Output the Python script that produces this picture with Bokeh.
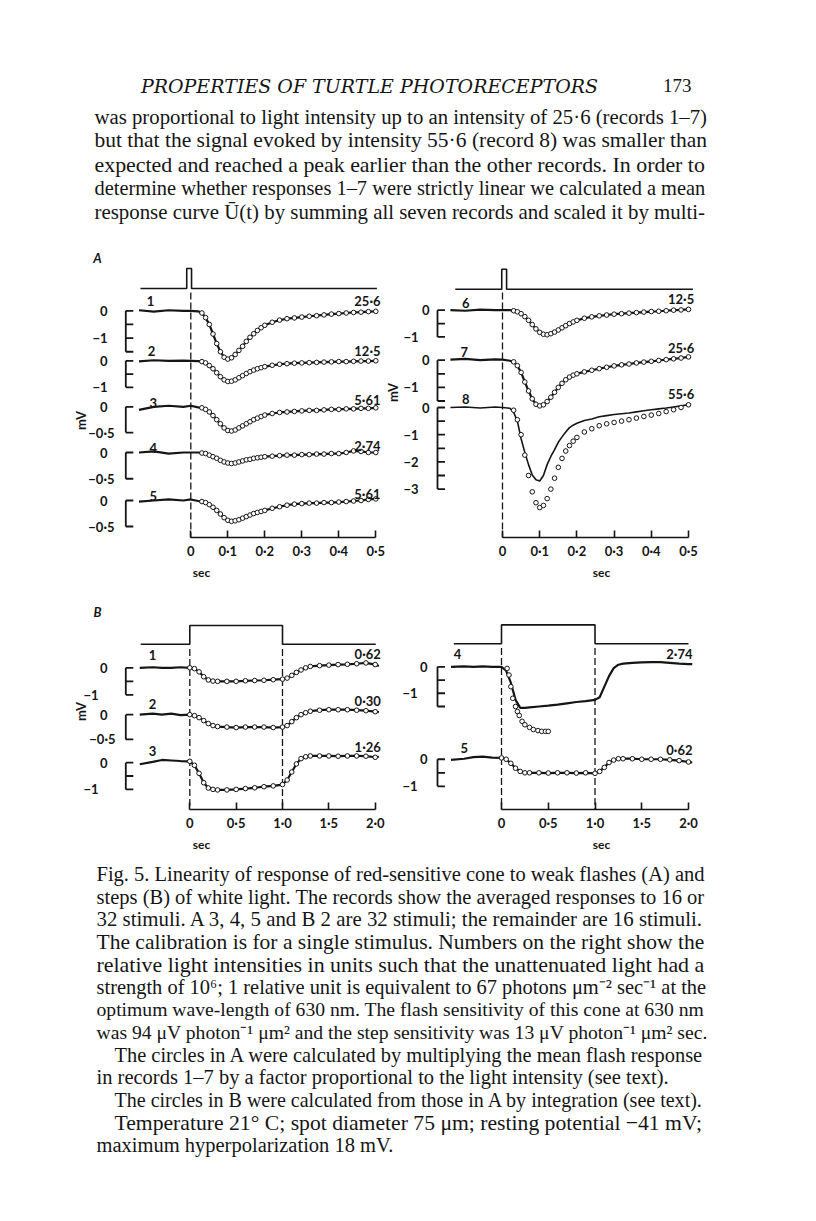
import numpy as np
from bokeh.plotting import figure
from bokeh.models import Range1d, LinearAxis, FixedTicker, CustomJSTickFormatter, ColumnDataSource
from bokeh.layouts import column, row
from bokeh.embed import file_html
from bokeh.resources import INLINE
from bokeh.core.properties import value

SANS = "Lato"
SERIF = "Liberation Serif"
INK = "#151515"

# ---------------------------------------------------------------- data (A: flashes)
TA = [-0.14, -0.10, -0.06, -0.02, 0.00, 0.02, 0.03, 0.04, 0.05, 0.06, 0.07, 0.08, 0.09,
      0.10, 0.11, 0.12, 0.13, 0.14, 0.15, 0.16, 0.17, 0.18, 0.19, 0.20, 0.22, 0.24, 0.26,
      0.28, 0.30, 0.32, 0.34, 0.36, 0.38, 0.40, 0.42, 0.44, 0.46, 0.48, 0.50]
A1 = [0.02, -0.03, 0.02, 0.00, 0.00, -0.02, -0.08, -0.25, -0.50, -0.85, -1.20, -1.50, -1.70,
      -1.77, -1.72, -1.60, -1.45, -1.30, -1.12, -0.97, -0.84, -0.72, -0.62, -0.53, -0.42, -0.34,
      -0.29, -0.26, -0.23, -0.20, -0.18, -0.15, -0.12, -0.10, -0.08, -0.06, -0.05, -0.03, -0.02]
A2 = [-0.02, 0.02, 0.00, 0.01, 0.00, -0.01, -0.03, -0.08, -0.18, -0.30, -0.45, -0.60, -0.72,
      -0.78, -0.77, -0.72, -0.64, -0.56, -0.48, -0.41, -0.35, -0.30, -0.26, -0.22, -0.17, -0.13,
      -0.11, -0.09, -0.08, -0.07, -0.06, -0.05, -0.04, -0.03, -0.03, -0.02, -0.01, -0.01, 0.00]
A3 = [-0.06, 0.00, 0.02, 0.00, 0.02, -0.01, -0.02, -0.05, -0.10, -0.17, -0.25, -0.33, -0.41,
      -0.46, -0.47, -0.45, -0.41, -0.37, -0.33, -0.29, -0.25, -0.22, -0.19, -0.16, -0.13, -0.11,
      -0.10, -0.09, -0.08, -0.07, -0.07, -0.06, -0.05, -0.05, -0.04, -0.04, -0.03, -0.03, -0.02]
A4 = [0.00, 0.02, -0.02, 0.00, 0.00, 0.00, -0.01, -0.02, -0.05, -0.08, -0.11, -0.15, -0.18,
      -0.20, -0.21, -0.20, -0.18, -0.16, -0.14, -0.13, -0.11, -0.10, -0.09, -0.08, -0.07, -0.06,
      -0.05, -0.05, -0.04, -0.04, -0.03, -0.03, -0.02, -0.02, 0.00, 0.03, 0.02, 0.00, 0.00]
A5 = [-0.02, 0.00, 0.02, 0.00, 0.02, -0.01, -0.02, -0.04, -0.08, -0.13, -0.19, -0.26, -0.33,
      -0.38, -0.40, -0.39, -0.37, -0.34, -0.31, -0.28, -0.25, -0.23, -0.21, -0.19, -0.15, -0.12,
      -0.09, -0.07, -0.06, -0.05, -0.05, -0.04, -0.04, -0.03, -0.02, -0.01, 0.00, 0.02, 0.03]
A6 = [0.00, -0.02, 0.02, 0.00, 0.00, 0.00, -0.02, -0.06, -0.13, -0.24, -0.38, -0.54, -0.70,
      -0.83, -0.90, -0.92, -0.88, -0.82, -0.74, -0.66, -0.58, -0.50, -0.44, -0.38, -0.30, -0.25,
      -0.21, -0.18, -0.15, -0.13, -0.11, -0.09, -0.07, -0.05, -0.04, -0.02, 0.00, 0.01, 0.03]
A7 = [0.02, 0.05, 0.00, 0.03, 0.02, -0.02, -0.06, -0.20, -0.45, -0.80, -1.13, -1.42, -1.62,
      -1.68, -1.64, -1.52, -1.36, -1.18, -1.00, -0.85, -0.72, -0.62, -0.55, -0.50, -0.43, -0.37,
      -0.31, -0.26, -0.21, -0.17, -0.14, -0.10, -0.07, -0.04, -0.01, 0.02, 0.05, 0.08, 0.12]
A8 = [0.00, 0.02, -0.02, 0.02, 0.00, -0.03, -0.18, -0.50, -1.15, -1.65, -2.10, -2.48, -2.66,
      -2.70, -2.50, -2.10, -1.80, -1.55, -1.28, -1.08, -0.90, -0.74, -0.65, -0.58, -0.48, -0.42,
      -0.34, -0.30, -0.26, -0.23, -0.20, -0.16, -0.12, -0.08, -0.05, -0.02, 0.02, 0.06, 0.10]
A8_CIRCLES = [0.00, 0.00, 0.00, 0.00, 0.00, -0.02, -0.10, -0.45, -1.00, -1.75, -2.50, -3.10, -3.50,
              -3.68, -3.60, -3.35, -3.00, -2.60, -2.20, -1.87, -1.60, -1.40, -1.24, -1.10, -0.90, -0.78,
              -0.67, -0.60, -0.55, -0.50, -0.45, -0.39, -0.33, -0.28, -0.22, -0.15, -0.08, 0.00, 0.10]
INT_A = ["25·6", "12·5", "5·61", "2·74", "5·61", "12·5", "25·6", "55·6"]
STIM_AL_T = [-0.136, -0.011, -0.011, 0.002, 0.002, 0.503]
STIM_AR_T = [-0.127, -0.002, -0.002, 0.011, 0.011, 0.512]
STIM_A_L = [0, 0, 1, 1, 0, 0]
A_TICKS = [0.0, 0.1, 0.2, 0.3, 0.4, 0.5]

# ---------------------------------------------------------------- data (B: steps)
TB = [-0.54, -0.40, -0.30, -0.20, -0.10, 0.00, 0.05, 0.10, 0.15, 0.20, 0.25, 0.30, 0.40,
      0.50, 0.60, 0.70, 0.80, 0.90, 1.00, 1.05, 1.10, 1.15, 1.20, 1.25, 1.30, 1.40, 1.50,
      1.60, 1.70, 1.80, 1.90, 2.00, 2.04]
B1 = [0.00, 0.02, 0.00, 0.00, 0.02, 0.00, -0.03, -0.15, -0.33, -0.45, -0.49, -0.50, -0.50,
      -0.50, -0.48, -0.47, -0.46, -0.44, -0.42, -0.38, -0.28, -0.17, -0.08, 0.00, 0.05, 0.08,
      0.10, 0.12, 0.13, 0.15, 0.18, 0.12, 0.07]
B2 = [0.00, 0.02, 0.00, 0.02, -0.01, 0.00, -0.02, -0.06, -0.12, -0.18, -0.22, -0.24, -0.25,
      -0.26, -0.25, -0.25, -0.25, -0.26, -0.25, -0.22, -0.14, -0.06, 0.00, 0.04, 0.07, 0.09,
      0.10, 0.10, 0.10, 0.09, 0.08, 0.06, 0.05]
B3 = [-0.06, 0.03, 0.10, 0.08, 0.06, 0.05, -0.10, -0.40, -0.75, -0.95, -1.00, -1.02, -1.02,
      -1.00, -0.97, -0.94, -0.90, -0.87, -0.82, -0.65, -0.35, -0.05, 0.15, 0.22, 0.25, 0.25,
      0.25, 0.24, 0.25, 0.25, 0.24, 0.20, 0.22]
B4 = [0.00, 0.02, 0.00, 0.02, 0.00, 0.00, -0.15, -0.60, -1.25, -1.55, -1.55, -1.53, -1.50,
      -1.47, -1.43, -1.38, -1.33, -1.30, -1.25, -1.15, -0.75, -0.35, -0.05, 0.08, 0.12, 0.15,
      0.17, 0.18, 0.18, 0.15, 0.12, 0.10, 0.10]
B4_CIRC_T = [0.06, 0.08, 0.10, 0.12, 0.15, 0.17, 0.19, 0.22, 0.25, 0.30, 0.34, 0.39, 0.43, 0.47, 0.50]
B4_CIRC_V = [-0.06, -0.31, -0.75, -1.19, -1.50, -1.69, -1.84, -2.06, -2.19, -2.29, -2.37, -2.41,
             -2.44, -2.44, -2.44]
B5 = [-0.02, 0.02, 0.08, 0.10, 0.06, 0.05, 0.00, -0.15, -0.33, -0.45, -0.50, -0.50, -0.50,
      -0.51, -0.50, -0.50, -0.51, -0.50, -0.52, -0.45, -0.30, -0.12, -0.03, 0.02, 0.02, 0.02,
      0.00, 0.00, 0.00, -0.02, -0.05, -0.10, -0.12]
INT_B = ["0·62", "0·30", "1·26", "2·74", "0·62"]
STIM_BL_T = [-0.53, 0.0, 0.0, 1.0, 1.0, 2.006]
STIM_BR_T = [-0.51, 0.0, 0.0, 1.0, 1.0, 2.0]
STIM_B_L = [0, 0, 1, 1, 0, 0]
B_TICKS = [0.0, 0.5, 1.0, 1.5, 2.0]

# ---------------------------------------------------------------- page text
RUNNING_HEAD = "PROPERTIES OF TURTLE PHOTORECEPTORS"
PAGE_NO = "173"
BODY = [
    "was proportional to light intensity up to an intensity of 25·6 (records 1–7)",
    "but that the signal evoked by intensity 55·6 (record 8) was smaller than",
    "expected and reached a peak earlier than the other records. In order to",
    "determine whether responses 1–7 were strictly linear we calculated a mean",
    "response curve Ū(t) by summing all seven records and scaled it by multi-",
]
CAPTION = [
    "Fig. 5. Linearity of response of red-sensitive cone to weak flashes (A) and",
    "steps (B) of white light. The records show the averaged responses to 16 or",
    "32 stimuli. A 3, 4, 5 and B 2 are 32 stimuli; the remainder are 16 stimuli.",
    "The calibration is for a single stimulus. Numbers on the right show the",
    "relative light intensities in units such that the unattenuated light had a",
    "strength of 10⁶; 1 relative unit is equivalent to 67 photons μm⁻² sec⁻¹ at the",
    "optimum wave-length of 630 nm. The flash sensitivity of this cone at 630 nm",
    "was 94 μV photon⁻¹ μm² and the step sensitivity was 13 μV photon⁻¹ μm² sec.",
    "The circles in A were calculated by multiplying the mean flash response",
    "in records 1–7 by a factor proportional to the light intensity (see text).",
    "The circles in B were calculated from those in A by integration (see text).",
    "Temperature 21° C; spot diameter 75 μm; resting potential −41 mV;",
    "maximum hyperpolarization 18 mV.",
]
CAPTION_INDENT = [0, 0, 0, 0, 0, 0, 0, 0, 1, 0, 1, 1, 0]
CAPTION_JUSTIFY = [1, 1, 1, 1, 1, 1, 1, 1, 1, 0, 1, 1, 0]

# Times-compatible advance widths (Liberation Serif), per 1000 em
TW = {" ": 250, "(": 333, ")": 333, ",": 250, "-": 333, ".": 250, ":": 278, ";": 278,
      "·": 250, "–": 500, "−": 564, "μ": 500, "°": 400, "¹": 300, "²": 300, "⁶": 300,
      "⁻": 333, "Ū": 722}
TW.update(dict(zip("abcdefghijklmnopqrstuvwxyz",
                   [444, 500, 444, 500, 444, 333, 500, 500, 278, 278, 500, 278, 778, 500, 500,
                    500, 500, 333, 389, 278, 500, 500, 722, 500, 500, 444])))
TW.update(dict(zip("ABCDEFGHIJKLMNOPQRSTUVWXYZ",
                   [722, 667, 667, 722, 611, 556, 722, 722, 333, 389, 722, 611, 889, 722, 722,
                    556, 722, 667, 556, 611, 722, 722, 944, 722, 722, 611])))


def em_width(s):
    return sum(TW.get(c, 500) for c in s) / 1000.0


JS_FMT = "return (tick === 0) ? '0' : tick.toFixed(1).replace('.', '\u00b7');"


def base_fig(width, height, xr, yr, bottom=0):
    p = figure(width=width, height=height, x_range=xr, y_range=yr, output_backend="svg",
               toolbar_location=None, title=None, x_axis_location=None, y_axis_location=None,
               min_border_left=0, min_border_right=0, min_border_top=0, min_border_bottom=bottom,
               outline_line_color=None, background_fill_color="white", border_fill_color="white")
    p.grid.grid_line_color = None
    return p


def sans_text(p, xs, ys, texts, align="center", size="13px", style="bold", angle=0.0, **kw):
    p.text(x=xs, y=ys, text=texts, text_align=align, text_baseline="middle",
           text_font=value(SANS), text_font_style=style, text_font_size=size,
           text_color=INK, angle=angle, **kw)


def make_panel(cfg):
    L, T, W, H, FH = cfg["left"], cfg["top"], cfg["width"], cfg["height"], cfg["frame_h"]
    t0, pps = cfg["t0"], cfg["pps"]

    def tx(px):
        return (px - t0) / pps

    def fy(py):
        return py - T

    p = base_fig(W, H, Range1d(tx(L), tx(L + W)), Range1d(FH, 0), bottom=H - FH)

    ranges = {}
    s0 = fy(cfg["stim_y0"])
    sc = cfg["stim_y0"] - cfg["stim_y1"]
    ranges["stim"] = Range1d(-(FH - s0) / sc, s0 / sc)
    for tr in cfg["traces"]:
        b = fy(tr["base"])
        g = tr["gain"]
        ranges[tr["id"]] = Range1d(-(FH - b) / g, b / g)
    p.extra_y_ranges = ranges

    # stimulus monitor
    p.line(cfg["stim_t"], cfg["stim_l"], y_range_name="stim", line_color=INK, line_width=1.6)

    # dashed time markers
    m = cfg["marks"]
    y0, y1 = cfg["mark_y"]
    p.segment(x0=m, y0=[fy(y0)] * len(m), x1=m, y1=[fy(y1)] * len(m),
              line_color=INK, line_width=1.3, line_dash="7 3")

    # time axis
    ax = LinearAxis(ticker=FixedTicker(ticks=cfg["ticks"]),
                    formatter=CustomJSTickFormatter(code=JS_FMT),
                    bounds=(cfg["ticks"][0], cfg["ticks"][-1]), axis_label="sec",
                    major_tick_in=7, major_tick_out=0, minor_tick_line_color=None,
                    axis_line_width=1.6, major_tick_line_width=1.6,
                    axis_line_color=INK, major_tick_line_color=INK,
                    major_label_text_font=SANS, major_label_text_font_style="bold",
                    major_label_text_font_size="13px", major_label_text_color=INK,
                    major_label_standoff=5, axis_label_standoff=3,
                    axis_label_text_font=SANS, axis_label_text_font_style="bold",
                    axis_label_text_font_size="12px", axis_label_text_color=INK)
    p.add_layout(ax, "below")

    for tr in cfg["traces"]:
        rn = tr["id"]
        # recorded response
        p.line(tr["t"], tr["v"], y_range_name=rn, line_color=INK, line_width=tr.get("lw", 2.2))
        # calculated circles
        ct, cv = tr["circ"]
        p.scatter(ct, cv, marker="circle", size=4.6, fill_color="white", line_color=INK,
                  line_width=1.0, y_range_name=rn)
        # calibration bracket
        bt = tx(tr["br_x"])
        dt = 7.5 / pps
        ticks = [-0.5 * k for k in range(int(round(-tr["br_min"] / 0.5)) + 1)]
        p.segment(x0=[bt], y0=[0.0], x1=[bt], y1=[tr["br_min"]], y_range_name=rn,
                  line_color=INK, line_width=1.8)
        p.segment(x0=[bt] * len(ticks), y0=ticks, x1=[bt + dt] * len(ticks), y1=ticks,
                  y_range_name=rn, line_color=INK, line_width=1.8)
        lv = [l[0] for l in tr["labels"]]
        ls = [l[1] for l in tr["labels"]]
        lx = [tx(l[2]) for l in tr["labels"]]
        sans_text(p, lx, lv, ls, align="right", y_range_name=rn)
        # record number and intensity
        n, nx, ny = tr["num"]
        sans_text(p, [tx(nx)], [fy(ny)], [n])
        s, sx, sy = tr["inten"]
        sans_text(p, [tx(sx)], [fy(sy)], [s], align="right")

    if cfg.get("letter"):
        s, x, y = cfg["letter"]
        sans_text(p, [tx(x)], [fy(y)], [s], style="bold italic", size="13px")
    for (x, y) in cfg.get("mv", []):
        sans_text(p, [tx(x)], [fy(y)], ["mV"], angle=np.pi / 2, size="13px")
    return p


def circ_from(t, v, tmin=0.03, tmax=0.5):
    idx = [i for i, tt in enumerate(t) if tmin - 1e-9 <= tt <= tmax + 1e-9]
    return [t[i] for i in idx], [v[i] for i in idx]


def tr_cfg(id_, t, v, circ, base, gain, br_x, br_min, labels, num, inten, lw=2.2):
    return dict(id=id_, t=t, v=v, circ=circ, base=base, gain=gain, br_x=br_x, br_min=br_min,
                labels=labels, num=num, inten=inten, lw=lw)


AL = dict(left=8, top=250, width=402, height=350, frame_h=295, t0=198.3, pps=370.0,
          ticks=A_TICKS, stim_t=STIM_AL_T, stim_l=STIM_A_L, stim_y0=296, stim_y1=276,
          marks=[0.0], mark_y=(300, 545), letter=("A", 105, 265),
          mv=[(88, 428), (400.5, 400)],
          traces=[
              tr_cfg("A1", TA, A1, circ_from(TA, A1), 318.3, 27.3, 133.3, -1.5,
                     [(0, "0", 115), (-1, "−1", 115)], ("1", 158, 308), (INT_A[0], 388, 308)),
              tr_cfg("A2", TA, A2, circ_from(TA, A2), 368.3, 26.5, 133.3, -1.0,
                     [(0, "0", 115), (-1, "−1", 115)], ("2", 159, 358), (INT_A[1], 388, 358)),
              tr_cfg("A3", TA, A3, circ_from(TA, A3), 414.3, 51.5, 133.3, -0.5,
                     [(0, "0", 115), (-0.5, "−0·5", 122)], ("3", 160.7, 410), (INT_A[2], 388, 407.7)),
              tr_cfg("A4", TA, A4, circ_from(TA, A4), 460.0, 52.5, 133.3, -0.5,
                     [(0, "0", 115), (-0.5, "−0·5", 122)], ("4", 160.7, 455.5), (INT_A[3], 388, 453.3)),
              tr_cfg("A5", TA, A5, circ_from(TA, A5), 508.0, 52.0, 133.3, -0.5,
                     [(0, "0", 115), (-0.5, "−0·5", 122)], ("5", 160.7, 503), (INT_A[4], 388, 501)),
          ])

AR = dict(left=410, top=250, width=398, height=350, frame_h=295, t0=510.0, pps=372.0,
          ticks=A_TICKS, stim_t=STIM_AR_T, stim_l=STIM_A_L, stim_y0=296.7, stim_y1=276.7,
          marks=[0.0], mark_y=(300, 545), letter=None, mv=[],
          traces=[
              tr_cfg("A6", TA, A6, circ_from(TA, A6), 317.7, 26.7, 445, -1.0,
                     [(0, "0", 437), (-1, "−1", 426)], ("6", 473.3, 310), (INT_A[5], 701.7, 306.7)),
              tr_cfg("A7", TA, A7, circ_from(TA, A7), 367.7, 27.2, 445, -1.5,
                     [(0, "0", 437), (-1, "−1", 426)], ("7", 471.7, 359.3), (INT_A[6], 701.7, 355)),
              tr_cfg("A8", TA, A8, circ_from(TA, A8_CIRCLES), 415.0, 27.2, 445, -3.0,
                     [(0, "0", 437), (-1, "−1", 426), (-2, "−2", 426), (-3, "−3", 426)],
                     ("8", 473.3, 406.7), (INT_A[7], 701.7, 401.7), lw=1.6),
          ])

BL = dict(left=8, top=600, width=402, height=262, frame_h=219, t0=197.3, pps=92.7,
          ticks=B_TICKS, stim_t=STIM_BL_T, stim_l=STIM_B_L, stim_y0=652.3, stim_y1=633.3,
          marks=[0.0, 1.0], mark_y=(657, 819), letter=("B", 105, 620), mv=[(88, 720)],
          traces=[
              tr_cfg("B1", TB, B1, circ_from(TB, B1, 0.0, 2.0), 676.0, 27.3, 133.3, -1.0,
                     [(0, "0", 115), (-1, "−1", 106)], ("1", 160, 662.7), (INT_B[0], 388.3, 661.7)),
              tr_cfg("B2", TB, B2, circ_from(TB, B2, 0.0, 2.0), 723.3, 50.0, 133.3, -0.5,
                     [(0, "0", 115), (-0.5, "−0·5", 123)], ("2", 160, 712.3), (INT_B[1], 388.3, 710)),
              tr_cfg("B3", TB, B3, circ_from(TB, B3, 0.0, 2.0), 771.7, 27.0, 133.3, -1.0,
                     [(0, "0", 115), (-1, "−1", 106)], ("3", 160, 760), (INT_B[2], 388.3, 756)),
          ])

BR = dict(left=410, top=600, width=398, height=262, frame_h=219, t0=509.0, pps=93.5,
          ticks=B_TICKS, stim_t=STIM_BR_T, stim_l=STIM_B_L, stim_y0=651.7, stim_y1=632.7,
          marks=[0.0, 1.0], mark_y=(656, 819), letter=None, mv=[],
          traces=[
              tr_cfg("B4", TB, B4, (B4_CIRC_T, B4_CIRC_V), 675.0, 26.7, 445, -1.5,
                     [(0, "0", 435), (-1, "−1", 425)], ("4", 465, 662.3), (INT_B[3], 700, 661.7)),
              tr_cfg("B5", TB, B5, circ_from(TB, B5, 0.0, 2.0), 768.3, 27.3, 445, -1.0,
                     [(0, "0", 435), (-1, "−1", 425)], ("5", 471.7, 756.7), (INT_B[4], 700, 759.3)),
          ])


def serif_block(p, lines, left, right, y0, dy, indent=None, justify=None, ind_px=18):
    n = len(lines)
    indent = indent or [0] * n
    justify = justify or [1] * n
    sizes = []
    for i, s in enumerate(lines):
        w = right - (left + ind_px * indent[i])
        sizes.append(w / em_width(s))
    js = [sizes[i] for i in range(n) if justify[i]]
    base = float(np.median(js))
    xs, ys, fs = [], [], []
    for i, s in enumerate(lines):
        f = sizes[i] if justify[i] else base
        f = min(max(f, base * 0.9), base * 1.1)
        xs.append(left + ind_px * indent[i])
        ys.append(y0 + dy * i + 0.22 * f)
        fs.append("%.2fpx" % f)
    src = ColumnDataSource(dict(x=xs, y=ys, text=lines, fs=fs))
    p.text(x="x", y="y", text="text", source=src, text_font=value(SERIF),
           text_font_size="fs", text_align="left", text_baseline="alphabetic", text_color=INK)


# header block (page coordinates)
hdr = base_fig(800, 242, Range1d(8, 808), Range1d(250, 8))
hdr.text(x=[377], y=[93], text=[RUNNING_HEAD], text_font=value("DejaVu Serif"),
         text_font_style="italic", text_font_size="19px", text_align="center",
         text_baseline="middle", text_color=INK)
hdr.text(x=[699], y=[93], text=[PAGE_NO], text_font=value(SERIF), text_font_size="19px",
         text_align="right", text_baseline="middle", text_color=INK)
serif_block(hdr, BODY, 102, 713, 119.0, 23.9)

# caption block
cap = base_fig(800, 349, Range1d(8, 808), Range1d(1211, 862))
serif_block(cap, CAPTION, 104, 712, 877.0, 22.6, CAPTION_INDENT, CAPTION_JUSTIFY)

layout = column(hdr, row(make_panel(AL), make_panel(AR)), row(make_panel(BL), make_panel(BR)), cap)

open("out.html", "w").write(file_html(layout, INLINE, title="Turtle photoreceptors fig. 5"))
